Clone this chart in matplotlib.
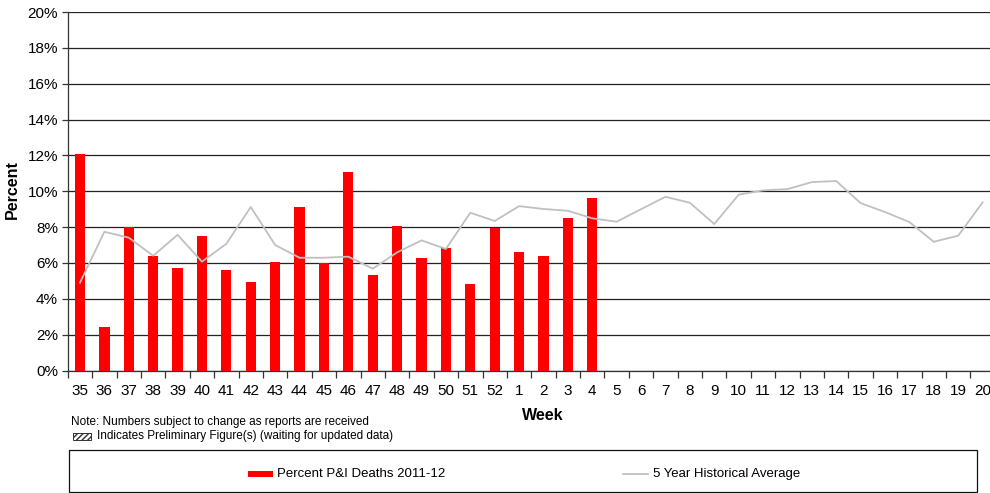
import matplotlib
matplotlib.use("Agg")
import matplotlib.pyplot as plt
from matplotlib.patches import Rectangle
from matplotlib.lines import Line2D
from matplotlib.ticker import FuncFormatter, MultipleLocator, FixedLocator

plt.rcParams['font.family'] = ['Liberation Sans', 'DejaVu Sans']

weeks = ['35', '36', '37', '38', '39', '40', '41', '42', '43', '44', '45', '46', '47', '48',
         '49', '50', '51', '52', '1', '2', '3', '4', '5', '6', '7', '8', '9', '10', '11',
         '12', '13', '14', '15', '16', '17', '18', '19', '20']
pi_deaths = [12.1, 2.45, 8.0, 6.4, 5.73, 7.5, 5.6, 4.94, 6.05, 9.1, 5.98, 11.05, 5.33, 8.06,
             6.27, 6.83, 4.84, 7.97, 6.61, 6.39, 8.51, 9.62]
hist_avg = [4.9, 7.74, 7.41, 6.4, 7.57, 6.07, 7.07, 9.12, 7.0, 6.29, 6.29, 6.35, 5.68, 6.59,
            7.26, 6.78, 8.8, 8.34, 9.17, 9.01, 8.91, 8.49, 8.3, 9.0, 9.69, 9.36, 8.17, 9.81,
            10.05, 10.12, 10.51, 10.57, 9.34, 8.84, 8.28, 7.18, 7.52, 9.38]
bar_label = 'Percent P&I Deaths 2011-12'
line_label = '5 Year Historical Average'

W, H = 990, 493
fig = plt.figure(figsize=(W / 100, H / 100), dpi=100)

def fx(px):
    return px / W

def fy(py):
    return 1 - py / H

ax = fig.add_axes([fx(67.8), fy(370.5), fx(927), fy(12) - fy(370.5)])
x = list(range(len(weeks)))
ax.bar(x[:len(pi_deaths)], pi_deaths, width=0.42, color='#FF0000', zorder=3)
ax.plot(x, hist_avg, color='#C0C0C0', lw=1.3, zorder=4)

ax.set_xlim(-0.5, len(weeks) - 0.5)
ax.set_ylim(0, 20)
ax.yaxis.set_major_locator(MultipleLocator(2))
ax.yaxis.set_major_formatter(FuncFormatter(lambda v, p: f'{int(round(v))}%'))
ax.grid(axis='y', color='#222222', lw=0.9, zorder=1)
ax.set_axisbelow(True)

ax.set_xticks(x)
ax.set_xticklabels(weeks, fontsize=11)
ax.xaxis.set_minor_locator(FixedLocator([i - 0.5 for i in range(len(weeks) + 1)]))
ax.tick_params(axis='x', which='major', length=0, pad=10)
ax.tick_params(axis='x', which='minor', length=5, width=0.9, color='#333333', direction='out')
ax.tick_params(axis='y', length=4, width=0.9, color='#333333', labelsize=11, pad=3)

for s in ['top', 'right']:
    ax.spines[s].set_visible(False)
ax.spines['left'].set_color('#333333')
ax.spines['bottom'].set_color('#333333')
ax.spines['left'].set_linewidth(0.9)
ax.spines['bottom'].set_linewidth(0.9)

fig.text(fx(12), fy(190), 'Percent', rotation=90, fontsize=11.5, fontweight='bold',
         ha='center', va='center')
fig.text(fx(543), fy(415), 'Week', fontsize=11.5, fontweight='bold', ha='center', va='center')

fig.text(fx(71), fy(422), 'Note: Numbers subject to change as reports are received',
         fontsize=8.5, ha='left', va='center')
fig.patches.append(Rectangle((fx(73), fy(439.5)), fx(18), fy(432.5) - fy(439.5),
                             transform=fig.transFigure, facecolor='white', edgecolor='#333333',
                             hatch='//////', lw=0.7))
fig.text(fx(97), fy(436), 'Indicates Preliminary Figure(s) (waiting for updated data)',
         fontsize=8.5, ha='left', va='center')

# legend box
fig.patches.append(Rectangle((fx(68.5), fy(492)), fx(908.5), fy(450) - fy(492),
                             transform=fig.transFigure, facecolor='white', edgecolor='#111111',
                             lw=0.9))
fig.patches.append(Rectangle((fx(248), fy(477)), fx(25), fy(471) - fy(477),
                             transform=fig.transFigure, facecolor='#FF0000', edgecolor='none'))
fig.text(fx(277), fy(474), bar_label, fontsize=9.5, ha='left', va='center')
fig.lines.append(Line2D([fx(623), fx(648)], [fy(474), fy(474)], transform=fig.transFigure,
                        color='#C0C0C0', lw=1.3))
fig.text(fx(653), fy(474), line_label, fontsize=9.5, ha='left', va='center')

fig.savefig('out.png', dpi=100)
